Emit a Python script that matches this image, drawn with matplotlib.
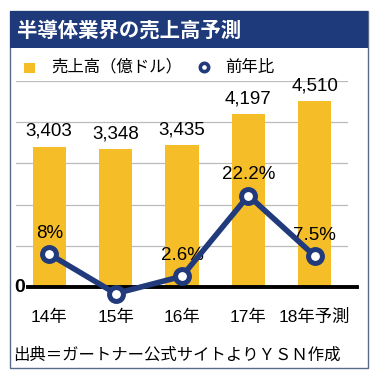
import matplotlib
matplotlib.use("Agg")
import matplotlib.pyplot as plt
from matplotlib.patches import Rectangle
from matplotlib.lines import Line2D

plt.rcParams['font.family'] = ['Liberation Sans', 'Noto Sans CJK JP', 'DejaVu Sans']

categories = ["14年", "15年", "16年", "17年", "18年予測"]
sales = [3403, 3348, 3435, 4197, 4510]
sales_labels = ["3,403", "3,348", "3,435", "4,197", "4,510"]
growth = [8.0, -1.6, 2.6, 22.2, 7.5]
growth_labels = ["8%", "-1.6%", "2.6%", "22.2%", "7.5%"]

W, H = 378, 379
fig = plt.figure(figsize=(W / 100, H / 100), dpi=100)
fig.patch.set_facecolor('white')

def fx(x): return x / W
def fy(y): return 1 - y / H

navy = '#213a7c'
yellow = '#f5bd28'

# outer border and title bar
fig.add_artist(Rectangle((fx(10), fy(368)), fx(358), (368 - 11) / H,
                         transform=fig.transFigure, facecolor='none',
                         edgecolor='#5a6a8a', lw=1.0))
fig.add_artist(Rectangle((fx(10), fy(48)), fx(358), (48 - 11) / H,
                         transform=fig.transFigure, facecolor='#1f3a7a',
                         edgecolor='none'))
fig.text(fx(17), fy(30), "半導体業界の売上高予測", color='white', fontsize=14.7,
         fontweight='bold', va='center', ha='left',
         family=['Noto Sans CJK JP', 'DejaVu Sans'])

# legend
fig.add_artist(Rectangle((fx(24), fy(73)), fx(11), 10 / H,
                         transform=fig.transFigure, facecolor=yellow, edgecolor='none'))
fig.text(fx(51), fy(67), "売上高（億ドル）", fontsize=11.8, va='center', ha='left',
         family=['Noto Sans CJK JP', 'DejaVu Sans'])
fig.add_artist(Line2D([fx(204)], [fy(67)], transform=fig.transFigure, marker='o',
                      markersize=6, markerfacecolor='white', markeredgecolor=navy,
                      markeredgewidth=2.6))
fig.text(fx(225), fy(67), "前年比", fontsize=11.8, va='center', ha='left',
         family=['Noto Sans CJK JP', 'DejaVu Sans'])

# main axes
ax = fig.add_axes([fx(16), fy(287), (348 - 16) / W, (287 - 81) / H])
x = list(range(len(categories)))
ax.bar(x, sales, width=0.5, color=yellow, zorder=2)
ax.set_xlim(-0.5, 4.5)
ax.set_ylim(0, 5000)
ax.set_yticks([1000, 2000, 3000, 4000, 5000])
ax.yaxis.grid(True, color='#bbbbbb', lw=0.9, zorder=0)
ax.set_axisbelow(True)
for s in ax.spines.values():
    s.set_visible(False)
ax.tick_params(axis='both', length=0, labelleft=False)
ax.set_xticks(x)
ax.set_xticklabels(categories, fontsize=12.5, family=['Liberation Sans', 'Noto Sans CJK JP'])
ax.tick_params(axis='x', pad=16)
for xi, v, lab in zip(x, sales, sales_labels):
    ax.annotate(lab, (xi, v), xytext=(0, 5), textcoords='offset points',
                ha='center', va='bottom', fontsize=13.5)

# zero line
ax.plot([-0.32, 4.64], [0, 0], color='black', lw=2.8, clip_on=False, zorder=3)
ax.text(-0.44, 0, "0", fontsize=14, fontweight='bold', ha='center', va='center')

ax2 = ax.twinx()
ax2.set_ylim(0, 50)
ax2.axis('off')
ax2.plot(x, growth, color=navy, lw=4, marker='o', markersize=10,
         markerfacecolor='white', markeredgecolor=navy, markeredgewidth=3.6,
         clip_on=False, zorder=4, solid_capstyle='round')
for xi, v, lab in zip(x, growth, growth_labels):
    ax2.annotate(lab, (xi, v), xytext=(0, 9), textcoords='offset points',
                 ha='center', va='bottom', fontsize=13.5)

fig.text(fx(13), fy(355), "出典＝ガートナー公式サイトよりＹＳＮ作成", fontsize=11.8,
         va='center', ha='left', family=['Noto Sans CJK JP', 'DejaVu Sans'])

fig.savefig("out.png", dpi=100)
